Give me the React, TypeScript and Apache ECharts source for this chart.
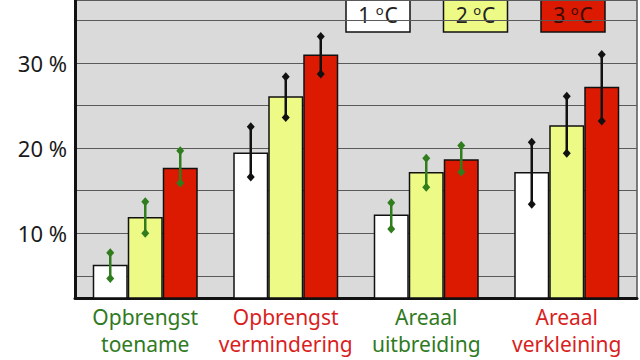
import React, { useEffect, useRef } from "react";
import * as echarts from "echarts";

const categories = ["Opbrengst\ntoename", "Opbrengst\nvermindering", "Areaal\nuitbreiding", "Areaal\nverkleining"];
const categoryTone = ["g", "r", "g", "r"];
const seriesNames = ["1", "2", "3"];
const values1 = [6.3, 19.5, 12.2, 17.2];
const values2 = [11.9, 26.1, 17.2, 22.7];
const values3 = [17.7, 31.0, 18.7, 27.2];
const err1 = [[4.7, 7.7], [16.6, 22.5], [10.5, 13.6], [13.4, 20.7]];
const err2 = [[10.0, 13.7], [23.6, 28.4], [15.4, 18.8], [19.4, 26.1]];
const err3 = [[15.9, 19.7], [28.7, 33.1], [17.2, 20.3], [23.2, 31.0]];
const yTicksShown = [10, 20, 30];

const barColors = ["#ffffff", "#eefa86", "#dc1a02"];
const errColorByCat = ["#2f7d1c", "#111111", "#2f7d1c", "#111111"];
const BAR_W = 35;
const FONT = "'Noto Sans', 'Open Sans', sans-serif";

export default function App() {
  const ref = useRef<HTMLDivElement>(null);
  useEffect(() => {
    const chart = echarts.init(ref.current!, null, { renderer: "svg" });
    const vals = [values1, values2, values3];
    const errs = [err1, err2, err3];

    const barSeries = vals.map((v, i) => ({
      name: seriesNames[i] + " ºC",
      type: "bar",
      data: v,
      barWidth: BAR_W,
      barGap: "0%",
      itemStyle: { color: barColors[i], borderColor: "#111", borderWidth: 1.5 },
    }));

    const errSeries = errs.map((e, si) => ({
      type: "custom",
      name: "err" + si,
      data: e.map((d, ci) => [ci, d[0], d[1]]),
      z: 5,
      renderItem: (params: any, api: any) => {
        const ci = api.value(0);
        const lo = api.coord([ci, api.value(1)]);
        const hi = api.coord([ci, api.value(2)]);
        const x = lo[0] + (si - 1) * BAR_W;
        const col = errColorByCat[ci];
        const diamond = (y: number) => ({
          type: "polygon",
          shape: { points: [[x, y - 4.5], [x + 4, y], [x, y + 4.5], [x - 4, y]] },
          style: { fill: col },
        });
        return {
          type: "group",
          children: [
            { type: "line", shape: { x1: x, y1: lo[1], x2: x, y2: hi[1] }, style: { stroke: col, lineWidth: 2.5 } },
            diamond(lo[1]),
            diamond(hi[1]),
          ],
        };
      },
    }));

    const legendGraphics = seriesNames.map((n, i) => ({
      type: "group",
      x: 346 + i * 97.5,
      y: -6,
      children: [
        { type: "rect", shape: { x: 0, y: 0, width: 64, height: 38 }, style: { fill: barColors[i], stroke: "#111", lineWidth: 1.5 } },
        {
          type: "text",
          x: 32,
          y: 21,
          style: {
            text: `{n|${n} }{s|o}{n|C}`,
            align: "center",
            verticalAlign: "middle",
            rich: {
              n: { fontSize: 21, fontFamily: FONT, fill: i === 2 ? "#3a0a00" : "#222" },
              s: { fontSize: 13, fontFamily: FONT, fill: i === 2 ? "#3a0a00" : "#222", padding: [0, 1, 11, 0] },
            },
          },
        },
      ],
    }));

    chart.setOption({
      animation: false,
      backgroundColor: "#ffffff",
      grid: {
        left: 75, right: 3, top: 0, bottom: 62,
        show: true, backgroundColor: "#dadada", borderColor: "#555", borderWidth: 1.5,
      },
      xAxis: {
        type: "category",
        data: categories,
        axisLine: { lineStyle: { color: "#111", width: 3 } },
        axisTick: { show: false },
        axisLabel: {
          margin: 5,
          interval: 0,
          formatter: (v: string, idx: number) =>
            v.split("\n").map((p) => `{${categoryTone[idx]}|${p}}`).join("\n"),
          rich: {
            g: { color: "#2f7a22", fontSize: 21, fontFamily: FONT, lineHeight: 27 },
            r: { color: "#d91e1e", fontSize: 21, fontFamily: FONT, lineHeight: 27 },
          },
        },
      },
      yAxis: {
        type: "value",
        min: 2.4,
        max: 37.4,
        splitNumber: 7,
        axisLine: { show: true, lineStyle: { color: "#111", width: 3 } },
        axisTick: { show: false },
        axisLabel: {
          margin: 8,
          color: "#1a1a1a",
          fontSize: 22,
          fontFamily: FONT,
          formatter: (v: number) => (yTicksShown.includes(Math.round(v * 10) / 10) ? `${v} %` : ""),
        },
        splitLine: { show: true, lineStyle: { color: "#5a5a5a", width: 1.2 } },
      },
      graphic: legendGraphics,
      series: [...barSeries, ...errSeries],
    });
    return () => chart.dispose();
  }, []);
  return <div ref={ref} style={{ width: 640, height: 360, position: "fixed", left: 0, top: 0 }} />;
}
